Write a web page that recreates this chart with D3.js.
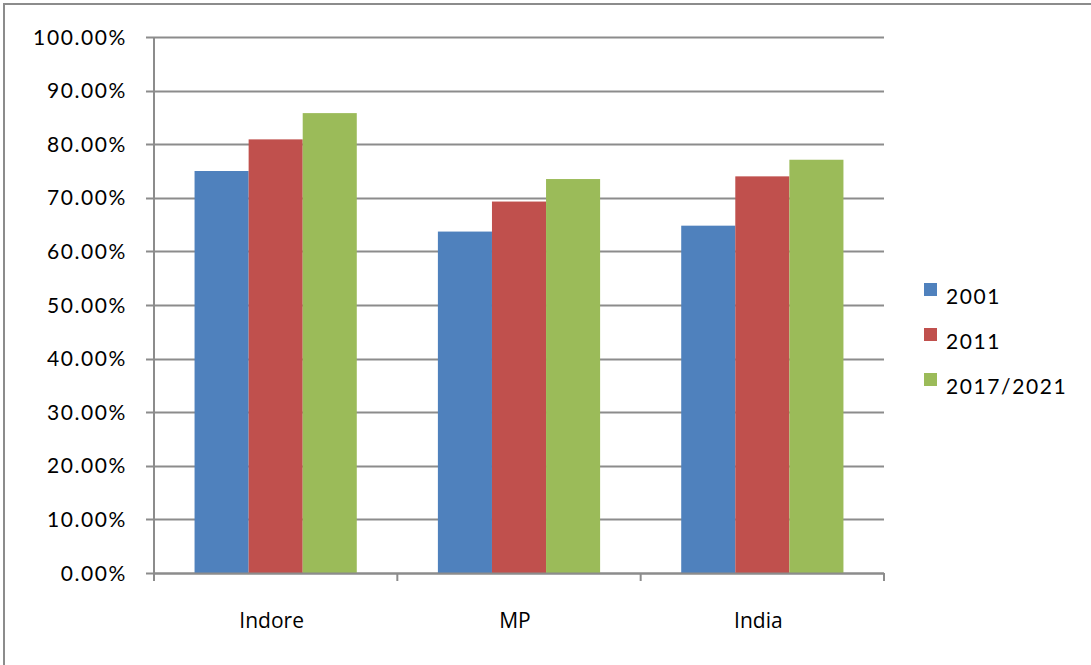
<!DOCTYPE html>
<html>
<head>
<meta charset="utf-8">
<script src="https://cdn.jsdelivr.net/npm/d3@7"></script>
<style>
  html, body { margin: 0; padding: 0; background: #ffffff; }
  svg { display: block; }
</style>
</head>
<body>
<svg id="chart" width="1091" height="665"></svg>
<script>
// Literacy rate by region and census period
const categories = ["Indore", "MP", "India"];
const seriesNames = ["2001", "2011", "2017/2021"];
const values2001 = [0.750, 0.637, 0.648];
const values2011 = [0.809, 0.693, 0.740];
const values2017 = [0.858, 0.735, 0.771];
const seriesColors = ["#4F81BD", "#C0504D", "#9BBB59"];
const yTicks = [0, 0.1, 0.2, 0.3, 0.4, 0.5, 0.6, 0.7, 0.8, 0.9, 1.0];

const seriesValues = [values2001, values2011, values2017];

const svg = d3.select("#chart");
const W = 1091, H = 665;

// outer chart frame (only top/left edges fall inside the view)
svg.append("rect")
  .attr("x", 4).attr("y", 4)
  .attr("width", W + 20).attr("height", H + 20)
  .attr("fill", "#ffffff")
  .attr("stroke", "#8c8c8c").attr("stroke-width", 2);

const plot = { left: 154, right: 884, top: 37, bottom: 573 };

const x0 = d3.scaleBand()
  .domain(categories)
  .range([plot.left, plot.right])
  .paddingInner(0)
  .paddingOuter(0);

// three touching bars per slot, with a gap of 1.5 bar widths between groups
const x1 = d3.scaleBand()
  .domain(seriesNames)
  .range([0, x0.bandwidth()])
  .paddingInner(0)
  .paddingOuter(0.75);

const y = d3.scaleLinear().domain([0, 1]).range([plot.bottom, plot.top]);

const gridColor = "#8c8c8c";
const labelFont = "Lato, 'Noto Sans', sans-serif";

// horizontal gridlines with left tick stubs
svg.append("g")
  .selectAll("line")
  .data(yTicks)
  .join("line")
  .attr("x1", plot.left - 8)
  .attr("x2", plot.right)
  .attr("y1", d => Math.round(y(d)) + 0.5)
  .attr("y2", d => Math.round(y(d)) + 0.5)
  .attr("stroke", gridColor)
  .attr("stroke-width", 2);

// y tick labels
svg.append("g")
  .selectAll("text")
  .data(yTicks)
  .join("text")
  .attr("x", 127)
  .attr("y", d => y(d))
  .attr("dy", "0.36em")
  .attr("text-anchor", "end")
  .attr("font-family", labelFont)
  .attr("font-size", 21)
  .attr("letter-spacing", "1.6px")
  .attr("fill", "#000")
  .text(d => d3.format(".2%")(d));

// bars
const groups = svg.append("g")
  .selectAll("g")
  .data(categories)
  .join("g")
  .attr("transform", d => `translate(${x0(d)},0)`);

groups.selectAll("rect")
  .data((c, ci) => seriesNames.map((s, si) => ({ s, v: seriesValues[si][ci], color: seriesColors[si] })))
  .join("rect")
  .attr("x", d => x1(d.s))
  .attr("width", x1.bandwidth())
  .attr("y", d => y(d.v))
  .attr("height", d => y(0) - y(d.v))
  .attr("fill", d => d.color);

// y axis line
svg.append("line")
  .attr("x1", plot.left).attr("x2", plot.left)
  .attr("y1", plot.top).attr("y2", plot.bottom)
  .attr("stroke", gridColor).attr("stroke-width", 2);

// x axis line and category boundary ticks
svg.append("line")
  .attr("x1", plot.left).attr("x2", plot.right)
  .attr("y1", plot.bottom + 0.5).attr("y2", plot.bottom + 0.5)
  .attr("stroke", gridColor).attr("stroke-width", 2);

const boundaries = categories.map(c => x0(c)).concat([plot.right]);
svg.append("g")
  .selectAll("line")
  .data(boundaries)
  .join("line")
  .attr("x1", d => d).attr("x2", d => d)
  .attr("y1", plot.bottom).attr("y2", plot.bottom + 8)
  .attr("stroke", gridColor).attr("stroke-width", 2);

// category labels
svg.append("g")
  .selectAll("text")
  .data(categories)
  .join("text")
  .attr("x", d => x0(d) + x0.bandwidth() / 2 - 4)
  .attr("y", 628)
  .attr("text-anchor", "middle")
  .attr("font-family", "'Open Sans', 'Noto Sans', sans-serif")
  .attr("font-size", 21)
  .attr("fill", "#000")
  .text(d => d);

// legend
const legend = svg.append("g")
  .selectAll("g")
  .data(seriesNames)
  .join("g")
  .attr("transform", (d, i) => `translate(924, ${283 + i * 45})`);

legend.append("rect")
  .attr("width", 13).attr("height", 13)
  .attr("fill", (d, i) => seriesColors[i]);

legend.append("text")
  .attr("x", 22)
  .attr("y", 21)
  .attr("font-family", labelFont)
  .attr("font-size", 21)
  .attr("letter-spacing", "1.6px")
  .attr("fill", "#000")
  .text(d => d);
</script>
</body>
</html>
